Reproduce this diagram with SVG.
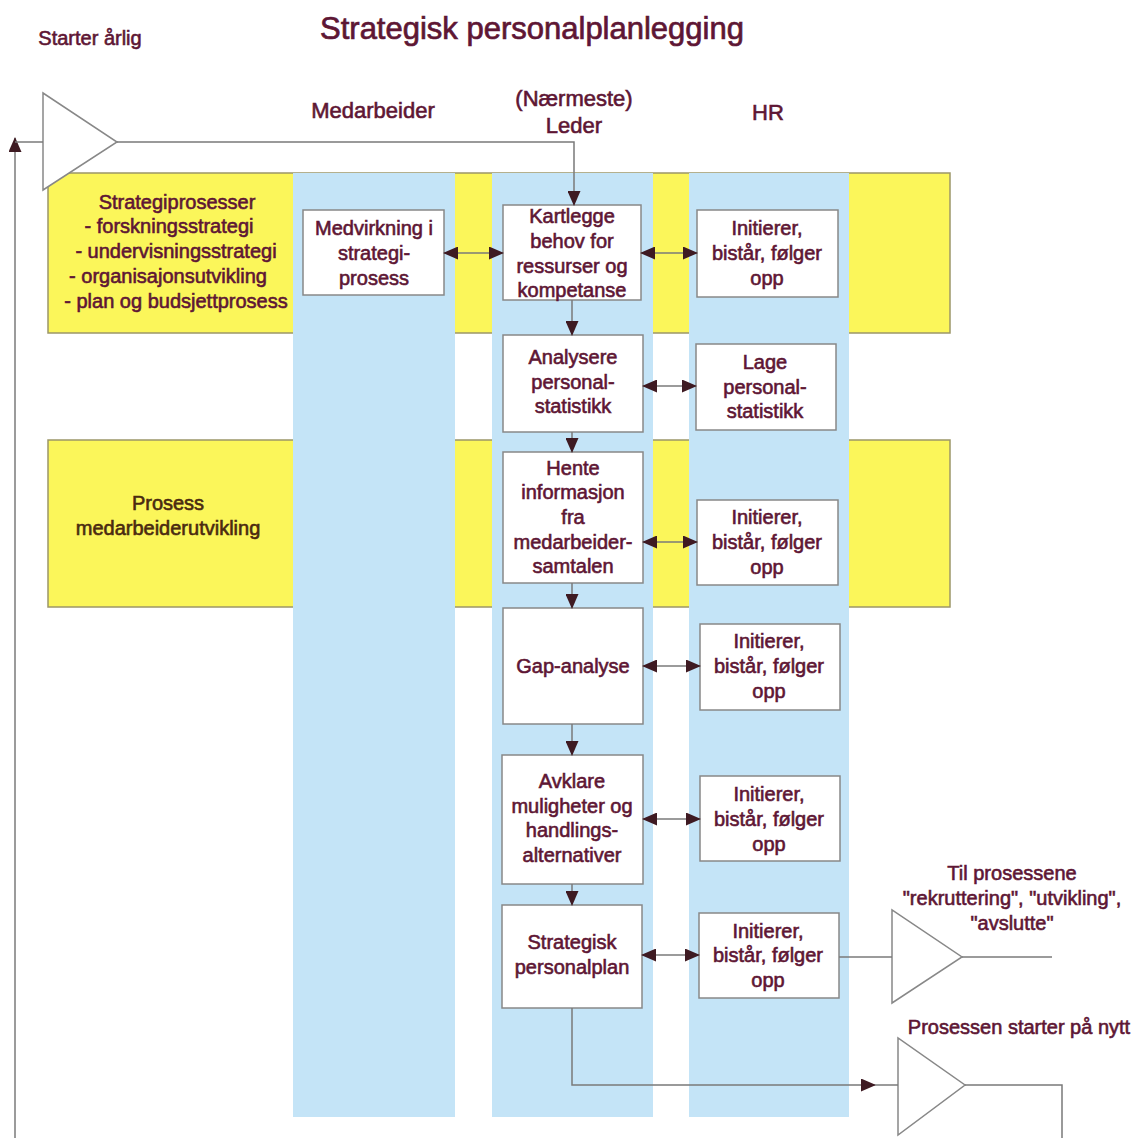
<svg xmlns="http://www.w3.org/2000/svg" width="1136" height="1138" viewBox="0 0 1136 1138">
<style>
text{font-family:"Liberation Sans",Arial,sans-serif;fill:#5e1634;stroke:#5e1634;stroke-width:0.6;text-anchor:middle;font-size:20px}
.title{font-size:31px;stroke-width:0.7}
.hdr{font-size:22px}
.band{fill:#fbf65a;stroke:#9c9668;stroke-width:1.5}
.lane{fill:#c4e4f7}
.box{fill:#fff;stroke:#888;stroke-width:1.5}
.tri{fill:#fff;stroke:#888;stroke-width:1.5}
.ln{fill:none;stroke:#7a7a7a;stroke-width:1.5}
text.dk{fill:#4a2a10;stroke:#4a2a10}
</style>
<defs>
<marker id="ah" markerUnits="userSpaceOnUse" markerWidth="15" markerHeight="13" refX="14" refY="6.5" orient="auto-start-reverse" viewBox="0 0 15 13">
<path d="M0,0 L15,6.5 L0,13 z" fill="#3e1a22"/>
</marker>
</defs>

<text class="title" x="532" y="39">Strategisk personalplanlegging</text>
<text x="90" y="45">Starter årlig</text>
<text class="hdr" x="373" y="118">Medarbeider</text>
<text class="hdr" x="574" y="106">(Nærmeste)</text>
<text class="hdr" x="574" y="133">Leder</text>
<text class="hdr" x="768" y="120">HR</text>

<g id="bands">
<rect class="band" x="48" y="173" width="902" height="160"/>
<rect class="band" x="48" y="440" width="902" height="167"/>
</g>
<g id="lanes">
<rect class="lane" x="293" y="173" width="162" height="944"/>
<rect class="lane" x="492" y="173" width="161" height="944"/>
<rect class="lane" x="689" y="173" width="160" height="944"/>
</g>

<g id="start-triangle"><polygon class="tri" points="43,93 43,190 117,142"/></g>

<g id="strategiprosesser">
<text x="177" y="209">Strategiprosesser</text>
<text x="169" y="233">- forskningsstrategi</text>
<text x="176" y="258">- undervisningsstrategi</text>
<text x="168" y="283">- organisajonsutvikling</text>
<text x="176" y="308">- plan og budsjettprosess</text>
</g>
<g id="medarbeiderutvikling">
<text class="dk" x="168" y="510">Prosess</text>
<text class="dk" x="168" y="535">medarbeiderutvikling</text>
</g>

<g id="medvirkning"><rect class="box" x="303" y="210" width="141" height="85"/>
<text x="374" y="235">Medvirkning i</text><text x="374" y="260">strategi-</text><text x="374" y="285">prosess</text></g>

<g id="kartlegge"><rect class="box" x="503" y="205" width="138" height="95"/>
<text x="572" y="223">Kartlegge</text><text x="572" y="248">behov for</text><text x="572" y="273">ressurser og</text><text x="572" y="297">kompetanse</text></g>

<g id="analysere"><rect class="box" x="503" y="335" width="140" height="97"/>
<text x="573" y="364">Analysere</text><text x="573" y="389">personal-</text><text x="573" y="413">statistikk</text></g>

<g id="hente"><rect class="box" x="503" y="452" width="140" height="131"/>
<text x="573" y="475">Hente</text><text x="573" y="499">informasjon</text><text x="573" y="524">fra</text><text x="573" y="549">medarbeider-</text><text x="573" y="573">samtalen</text></g>

<g id="gap"><rect class="box" x="503" y="608" width="140" height="116"/>
<text x="573" y="673">Gap-analyse</text></g>

<g id="avklare"><rect class="box" x="502" y="755" width="141" height="129"/>
<text x="572" y="788">Avklare</text><text x="572" y="813">muligheter og</text><text x="572" y="837">handlings-</text><text x="572" y="862">alternativer</text></g>

<g id="strategisk-plan"><rect class="box" x="502" y="905" width="140" height="103"/>
<text x="572" y="949">Strategisk</text><text x="572" y="974">personalplan</text></g>

<g id="hr1"><rect class="box" x="697" y="210" width="141" height="87"/>
<text x="767" y="235">Initierer,</text><text x="767" y="260">bistår, følger</text><text x="767" y="285">opp</text></g>
<g id="hr2"><rect class="box" x="696" y="344" width="140" height="86"/>
<text x="765" y="369">Lage</text><text x="765" y="394">personal-</text><text x="765" y="418">statistikk</text></g>
<g id="hr3"><rect class="box" x="697" y="500" width="141" height="85"/>
<text x="767" y="524">Initierer,</text><text x="767" y="549">bistår, følger</text><text x="767" y="574">opp</text></g>
<g id="hr4"><rect class="box" x="700" y="624" width="140" height="86"/>
<text x="769" y="648">Initierer,</text><text x="769" y="673">bistår, følger</text><text x="769" y="698">opp</text></g>
<g id="hr5"><rect class="box" x="700" y="776" width="140" height="85"/>
<text x="769" y="801">Initierer,</text><text x="769" y="826">bistår, følger</text><text x="769" y="851">opp</text></g>
<g id="hr6"><rect class="box" x="699" y="913" width="140" height="85"/>
<text x="768" y="938">Initierer,</text><text x="768" y="962">bistår, følger</text><text x="768" y="987">opp</text></g>

<g id="til-prosessene">
<polygon class="tri" points="892,910 892,1003 962,957"/>
<text x="1012" y="880">Til prosessene</text>
<text x="1012" y="905">"rekruttering", "utvikling",</text>
<text x="1012" y="930">"avslutte"</text>
</g>
<g id="starter-paa-nytt">
<polygon class="tri" points="898,1038 898,1135 965,1085"/>
<text x="1019" y="1034">Prosessen starter på nytt</text>
</g>

<g id="connectors">
<path class="ln" d="M117,142 H574 V205" marker-end="url(#ah)"/>
<path class="ln" d="M15,1138 V138" marker-end="url(#ah)"/>
<path class="ln" d="M15,142 H43"/>
<path class="ln" d="M572,300 V335" marker-end="url(#ah)"/>
<path class="ln" d="M572,432 V452" marker-end="url(#ah)"/>
<path class="ln" d="M572,583 V608" marker-end="url(#ah)"/>
<path class="ln" d="M572,724 V755" marker-end="url(#ah)"/>
<path class="ln" d="M572,884 V905" marker-end="url(#ah)"/>
<path class="ln" d="M444,253 H503" marker-start="url(#ah)" marker-end="url(#ah)"/>
<path class="ln" d="M641,253 H697" marker-start="url(#ah)" marker-end="url(#ah)"/>
<path class="ln" d="M643,386 H696" marker-start="url(#ah)" marker-end="url(#ah)"/>
<path class="ln" d="M643,542 H697" marker-start="url(#ah)" marker-end="url(#ah)"/>
<path class="ln" d="M643,666 H700" marker-start="url(#ah)" marker-end="url(#ah)"/>
<path class="ln" d="M643,819 H700" marker-start="url(#ah)" marker-end="url(#ah)"/>
<path class="ln" d="M642,955 H699" marker-start="url(#ah)" marker-end="url(#ah)"/>
<path class="ln" d="M839,957 H892"/>
<path class="ln" d="M962,957 H1052"/>
<path class="ln" d="M572,1008 V1085 H875" marker-end="url(#ah)"/>
<path class="ln" d="M875,1085 H898"/>
<path class="ln" d="M965,1085 H1062 V1138"/>
</g>
</svg>
